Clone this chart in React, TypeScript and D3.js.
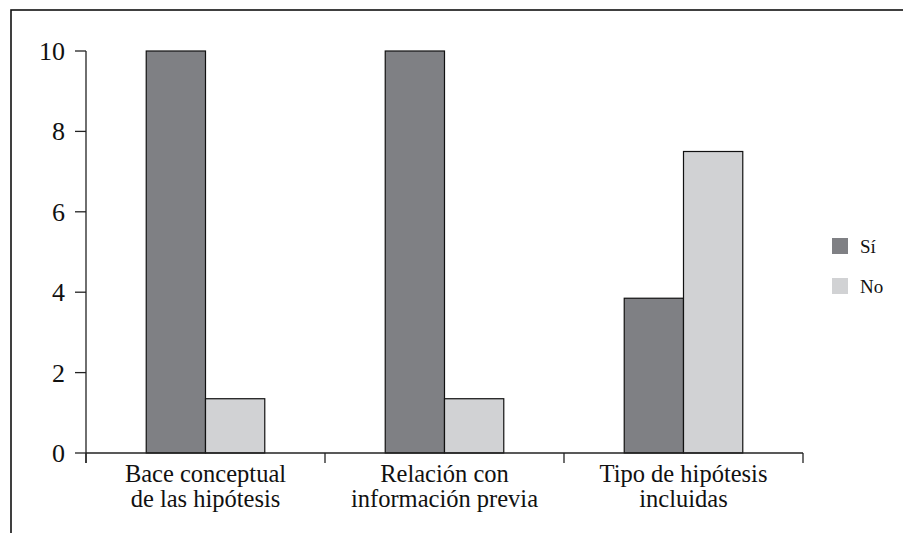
import React from "react";
import * as d3 from "d3";

const categories: string[][] = [
  ["Bace conceptual", "de las hipótesis"],
  ["Relación con", "información previa"],
  ["Tipo de hipótesis", "incluidas"],
];
const seriesNames = ["Sí", "No"];
const siValues = [10, 10, 3.85];
const noValues = [1.35, 1.35, 7.5];
const yTicks = [0, 2, 4, 6, 8, 10];
const colors = ["#7f8084", "#d1d2d4"];

const FONT = "Liberation Serif";

export default function App() {
  const width = 903;
  const height = 533;
  const left = 86, right = 803, top = 51, bottom = 453;

  const x = d3.scaleBand<number>()
    .domain(d3.range(categories.length))
    .range([left, right]);
  const y = d3.scaleLinear().domain([0, 10]).range([bottom, top]);
  const barW = x.bandwidth() * 0.248;
  const series = [siValues, noValues];
  const edges = d3.range(categories.length + 1).map(i => left + i * x.step());

  return (
    <svg
      width={width}
      height={height}
      fontFamily={FONT}
      style={{ position: "fixed", left: 0, top: 0, background: "#fff" }}
    >
      {/* frame: only its top and left edges are visible */}
      <rect x={11} y={10} width={1000} height={1000} fill="none" stroke="#111" strokeWidth={1.6} />

      {/* bars */}
      {series.map((vals, s) =>
        vals.map((v, i) => (
          <rect
            key={`${s}-${i}`}
            x={x(i)! + x.bandwidth() / 2 - barW + s * barW}
            y={y(v)}
            width={barW}
            height={y(0) - y(v)}
            fill={colors[s]}
            stroke="#111"
            strokeWidth={1.2}
          />
        ))
      )}

      {/* y axis */}
      <line x1={left} x2={left} y1={y(10)} y2={bottom + 10} stroke="#222" strokeWidth={1.3} />
      {yTicks.map(t => (
        <g key={t}>
          <line x1={left - 11} x2={left} y1={y(t)} y2={y(t)} stroke="#222" strokeWidth={1.3} />
          <text
            x={left - 21}
            y={y(t) + 9}
            textAnchor="end"
            fontFamily={FONT}
            fontSize={26}
            fill="#111"
          >
            {t}
          </text>
        </g>
      ))}

      {/* x axis */}
      <line x1={left} x2={right} y1={bottom} y2={bottom} stroke="#222" strokeWidth={1.3} />
      {edges.map((e, i) => (
        <line key={i} x1={e} x2={e} y1={bottom} y2={bottom + 10} stroke="#222" strokeWidth={1.3} />
      ))}
      {categories.map((lines, i) =>
        lines.map((ln, k) => (
          <text
            key={`${i}-${k}`}
            x={x(i)! + x.bandwidth() / 2}
            y={482 + k * 25}
            textAnchor="middle"
            fontFamily={FONT}
            fontSize={24.5}
            fill="#111"
          >
            {ln}
          </text>
        ))
      )}

      {/* legend */}
      {seriesNames.map((n, i) => (
        <g key={n} transform={`translate(832, ${238 + i * 40})`}>
          <rect width={16} height={16} fill={colors[i]} />
          <text x={28} y={15} fontFamily={FONT} fontSize={19} fill="#111">
            {n}
          </text>
        </g>
      ))}
    </svg>
  );
}
